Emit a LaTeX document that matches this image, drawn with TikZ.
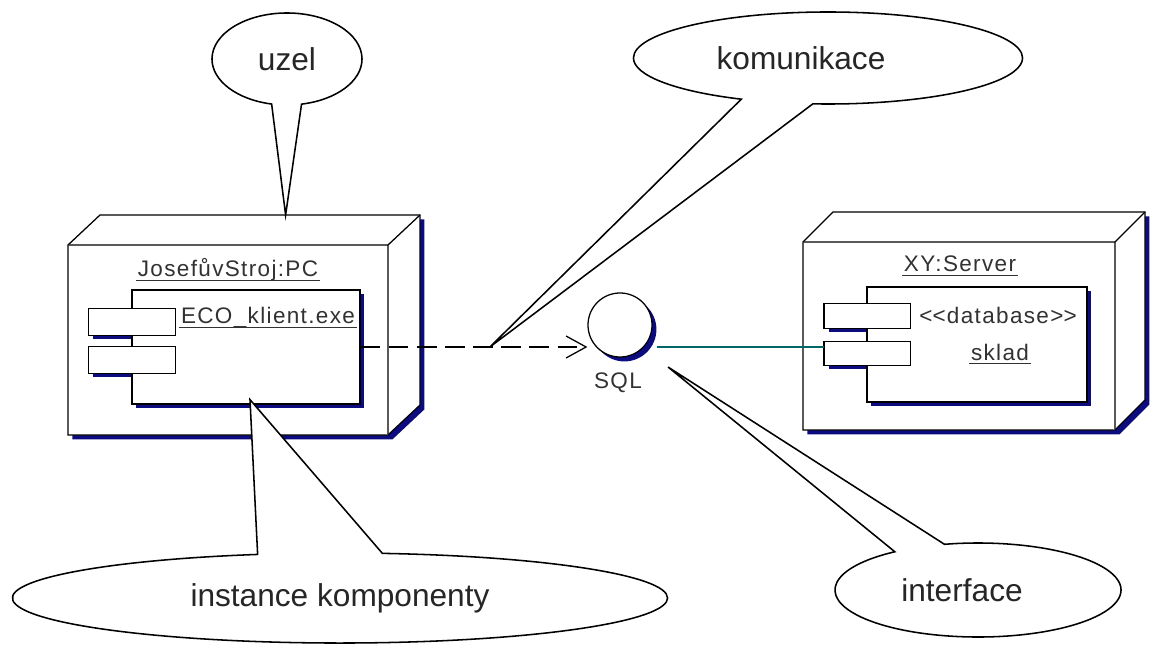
\documentclass[tikz,border=0pt]{standalone}
\usepackage{fontspec}
\setmainfont{Liberation Sans}
\newfontfamily\umlfamily{Liberation Sans}[LetterSpace=6]
\usetikzlibrary{shapes.geometric,shapes.callouts,shadows,arrows.meta,calc,positioning}

\definecolor{shadeblue}{RGB}{12,12,128}
\definecolor{wireteal}{RGB}{0,102,102}
\definecolor{labgray}{RGB}{50,50,50}

\begin{document}
\begin{tikzpicture}[x=0.025cm,y=-0.025cm,
  box/.style={draw,fill=white,line width=0.9pt},
  shadowed/.style={drop shadow={shadow xshift=1.1mm,shadow yshift=-1.1mm,fill=shadeblue,opacity=1}},
  comp/.style={box,shadowed,inner sep=0pt},
  plug/.style={comp,minimum width=2.15cm},
  lab/.style={font=\umlfamily\fontsize{16}{19}\selectfont,text=labgray,inner sep=1pt},
  ulabel/.style={lab,append after command={([yshift=-2.4pt]\tikzlastnode.base west)
      edge[labgray,line width=.8pt] ([yshift=-2.4pt]\tikzlastnode.base east)}},
  dep/.style={line width=0.9pt,dash pattern=on 14pt off 6pt,
      -{Straight Barb[length=0.5cm,width=0.55cm,line width=0.9pt]}},
  bubble/.style={ellipse callout,draw,fill=white,line width=1.1pt,inner sep=0pt,
      font=\fontsize{22.5}{26}\selectfont,text=black!85}]
\useasboundingbox (0,0) rectangle (1154,648);

% uzel JosefuvStroj:PC
\coordinate (pcA) at (68,435);
\coordinate (pcB) at (68,245);
\coordinate (pcC) at (388,245);
\coordinate (pcD) at (388,435);
\coordinate (pcE) at (100,215);
\coordinate (pcF) at (420,215);
\coordinate (pcG) at (420,405);
\fill[shadeblue,transform canvas={xshift=1.1mm,yshift=-1.1mm}] (pcA)--(pcB)--(pcE)--(pcF)--(pcG)--(pcD)--cycle;
\filldraw[box] (pcA)--(pcB)--(pcE)--(pcF)--(pcG)--(pcD)--cycle;
\draw[box] (pcB)--(pcC)--(pcD) (pcC)--(pcF);
\node[ulabel] (pcname) at (228,270) {JosefůvStroj:PC};

\node[plug,minimum height=0.625cm] (eco1) at (132,322) {};
\node[plug,minimum height=0.65cm] (eco2) at (132,360) {};
\node[comp,minimum width=5.7cm,minimum height=2.85cm] (eco) at (246,347) {};
\draw[box] (eco1.south west) rectangle (eco1.north east) (eco2.south west) rectangle (eco2.north east);
\node[ulabel] (econame) at (268,318) {ECO\_klient.exe};

% uzel XY:Server
\coordinate (srvA) at (803,430);
\coordinate (srvB) at (803,242);
\coordinate (srvC) at (1115,242);
\coordinate (srvD) at (1115,430);
\coordinate (srvE) at (833,212);
\coordinate (srvF) at (1145,212);
\coordinate (srvG) at (1145,400);
\fill[shadeblue,transform canvas={xshift=1.1mm,yshift=-1.1mm}] (srvA)--(srvB)--(srvE)--(srvF)--(srvG)--(srvD)--cycle;
\filldraw[box] (srvA)--(srvB)--(srvE)--(srvF)--(srvG)--(srvD)--cycle;
\draw[box] (srvB)--(srvC)--(srvD) (srvC)--(srvF);
\node[ulabel] (srvname) at (960,264) {XY:Server};

\node[plug,minimum width=2.125cm,minimum height=0.6cm] (db1) at (867,316) {};
\node[plug,minimum width=2.125cm,minimum height=0.575cm] (db2) at (867,353.5) {};
\node[comp,minimum width=5.5cm,minimum height=2.875cm] (db) at (977,344.5) {};
\draw[box] (db1.south west) rectangle (db1.north east) (db2.south west) rectangle (db2.north east);
\node[lab] (dbtype) at (998,315) {<\kern0pt<database>\kern0pt>};
\node[ulabel] (dbname) at (1000,352) {sklad};

% interface SQL
\node[circle,box,shadowed,minimum size=1.6cm,inner sep=0pt] (sql) at (620,325) {};
\node[lab] (sqlname) at (618,383) {SQL};

\draw[dep] (eco.east) -- coordinate[pos=.57] (kom) (eco.east -| sql.west);
\draw[wireteal,line width=0.9pt] ($(eco.east -| sql.east)+(4,0)$) -- (eco.east -| db2.west);

% poznamky
\node[bubble,minimum width=3.75cm,minimum height=2.3cm,callout pointer arc=23,
  callout absolute pointer={($(pcE)!.58!(pcF)$)}] (uzel) at (287,59) {uzel};
\node[bubble,minimum width=9.725cm,minimum height=2.3cm,callout pointer arc=22,
  callout absolute pointer={(kom)}] (komunikace) at (828,58) {komunikace\kern1.35cm};
\node[bubble,minimum width=16.375cm,minimum height=2.25cm,callout pointer arc=22,
  callout absolute pointer={($(eco.south)+(4,-5)$)}] (instance) at (340,598) {instance komponenty};
\node[bubble,minimum width=7.15cm,minimum height=2.35cm,callout pointer arc=22,
  callout absolute pointer={($(sql.south east)+(25,19)$)}] (interface) at (978,590) {interface\kern0.8cm};
\end{tikzpicture}
\end{document}
